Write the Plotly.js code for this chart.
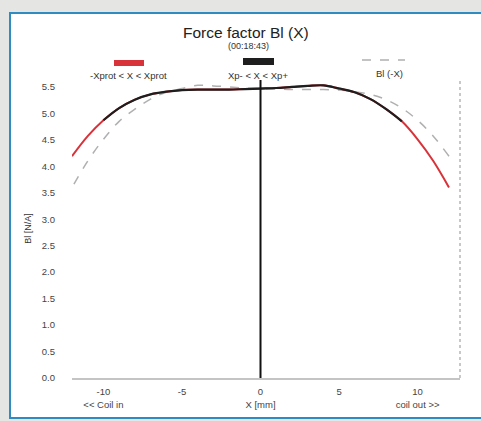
<!DOCTYPE html>
<html>
<head>
<meta charset="utf-8">
<script src="https://cdn.plot.ly/plotly-3.0.1.min.js"></script>
<style>
html,body{margin:0;padding:0;background:#e5e5e3;}
#frame{position:absolute;left:9px;top:12px;width:480px;height:407px;background:#fff;border:2px solid #2e8cc0;box-sizing:border-box;}
#chart{position:absolute;left:0;top:0;width:481px;height:421px;}
</style>
</head>
<body>
<div id="frame"></div>
<div id="chart"></div>
<script>
// Data
var xPos = [-12,-11,-10,-9,-8,-7,-6,-5,-4,-3,-2,-1,0,1,2,3,4,5,6,7,8,9,10,11,12];
var blVals = [4.19,4.57,4.87,5.10,5.26,5.36,5.41,5.44,5.45,5.45,5.45,5.46,5.47,5.48,5.50,5.52,5.53,5.47,5.40,5.27,5.08,4.85,4.51,4.10,3.60];
var xpMinusIdx = 2;   // x = -10
var xpPlusIdx = 21;   // x = 9
var cursorX = [0, 0];
var cursorY = [0, 5.63];
var tickVals = [-10, -5, 0, 5, 10];
var tickText = ['-10<br>&lt;&lt; Coil in', '-5', '0<br>X [mm]', '5', '10<br>coil out &gt;&gt;'];
var yTickVals = [0,0.5,1,1.5,2,2.5,3,3.5,4,4.5,5,5.5];
var legendNames = ['-Xprot &lt; X &lt; Xprot', 'Xp- &lt; X &lt; Xp+', 'Bl (-X)'];

var mirrorX = xPos.map(function(v){return -v;});

var traces = [
  {x: mirrorX, y: blVals, mode:'lines', line:{color:'#b0b0b0', width:1.5, dash:'dash', shape:'spline'}, hoverinfo:'skip'},
  {x: xPos, y: blVals, mode:'lines', line:{color:'#d8333a', width:2, shape:'spline'}, hoverinfo:'skip'},
  {x: xPos.slice(xpMinusIdx, xpPlusIdx+1), y: blVals.slice(xpMinusIdx, xpPlusIdx+1), mode:'lines', line:{color:'#1e1e1e', width:2.2, shape:'spline'}, hoverinfo:'skip'},
  {x: cursorX, y: cursorY, mode:'lines', line:{color:'#111', width:2}, hoverinfo:'skip'}
];

// plot area: x 72..460, y 79..378
function px(p){ return (p-72)/388; }
function py(p){ return (378-p)/299; }

var font = {family:'Liberation Sans, Arial, sans-serif', size:9.5, color:'#444'};
function ann(text, x, y, size, color){
  return {text:text, xref:'paper', yref:'paper', x:px(x), y:py(y), xanchor:'center', yanchor:'middle',
          showarrow:false, font:{family:font.family, size:size, color:color}};
}

var layout = {
  width:481, height:421,
  margin:{l:72, r:21, t:79, b:43},
  paper_bgcolor:'rgba(0,0,0,0)',
  plot_bgcolor:'#fff',
  showlegend:false,
  font: font,
  xaxis:{range:[-12,12.7], tickvals:tickVals, ticktext:tickText, showgrid:false, zeroline:false,
         showline:true, linecolor:'#c4c4c4', linewidth:2, ticks:'', ticklabelstandoff:4,
         tickfont:{family:font.family, size:9.5, color:'#444'}},
  yaxis:{range:[0,5.65], tickvals:yTickVals, tickformat:'.1f', showgrid:false, zeroline:false,
         showline:false, ticks:'', ticklabelstandoff:16,
         tickfont:{family:font.family, size:9.5, color:'#444'},
         title:{text:'Bl [N/A]', font:{family:font.family, size:9, color:'#333'}, standoff:8}},
  shapes:[
    {type:'line', xref:'paper', yref:'paper', x0:1, x1:1, y0:0, y1:1, line:{color:'#c8c8c8', width:2, dash:'dot'}},
    {type:'rect', xref:'paper', yref:'paper', x0:px(114), x1:px(144), y0:py(66), y1:py(60), fillcolor:'#d8333a', line:{width:0}},
    {type:'rect', xref:'paper', yref:'paper', x0:px(243), x1:px(274), y0:py(65), y1:py(58), fillcolor:'#1e1e1e', line:{width:0}},
    {type:'line', xref:'paper', yref:'paper', x0:px(362), x1:px(405), y0:py(60), y1:py(60), line:{color:'#b0b0b0', width:1.5, dash:'dash'}}
  ],
  annotations:[
    ann('Force factor Bl (X)', 246, 32, 15.5, '#222'),
    ann('(00:18:43)', 248, 46, 9, '#333'),
    ann(legendNames[0], 128, 75, 9.5, '#333'),
    ann(legendNames[1], 258, 75, 9.5, '#333'),
    ann(legendNames[2], 389, 73, 9.5, '#333')
  ]
};

Plotly.newPlot('chart', traces, layout, {staticPlot:true, displayModeBar:false});
</script>
</body>
</html>
